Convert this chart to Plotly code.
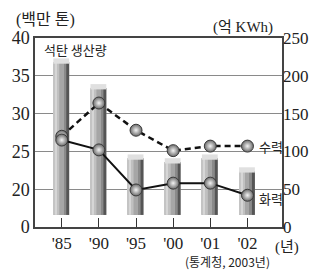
import plotly.graph_objects as go

years = ["'85", "'90", "'95", "'00", "'01", "'02"]
coal_mt = [36.8, 33.4, 24.1, 23.6, 24.1, 22.4]          # 백만 톤 (broken axis 20~40)
hydro = [120, 164, 128, 101, 107, 107]                  # 억 KWh
thermal = [115, 102, 49, 58, 58, 42]                    # 억 KWh
left_ticks = ["0", "20", "25", "30", "35", "40"]
right_ticks = ["0", "50", "100", "150", "200", "250"]

x = list(range(len(years)))
# broken left axis: 20..40 mapped onto 50..250 of the right scale
coal_r = [(v - 15) * 10 for v in coal_mt]
BASE = 16
PX = 250 / 6.65  # px per category unit

def u(px):
    return px / PX

fig = go.Figure()

def bar_layer(off_px, w_px, color):
    fig.add_trace(go.Bar(
        x=x, y=[r - BASE for r in coal_r], base=[BASE] * len(x),
        offset=u(off_px), width=u(w_px), marker=dict(color=color, line=dict(width=0)),
        hoverinfo="skip", showlegend=False))

bar_layer(-8.5, 16, "#a6a6a6")
bar_layer(-8.5, 2.0, "#c4c4c4")
bar_layer(-6.5, 2.0, "#d6d6d6")
bar_layer(-4.5, 2.0, "#c0c0c0")
bar_layer(2.5, 2.0, "#8a8a8a")
bar_layer(4.5, 3.0, "#555555")
# top caps
fig.add_trace(go.Bar(
    x=x, y=[7] * len(x), base=[r - 2 for r in coal_r],
    offset=u(-8.5), width=u(16), marker=dict(color="#e0e0e0", line=dict(width=0)),
    hoverinfo="skip", showlegend=False))

marker_style = dict(size=12, color="#6a6a6a", symbol="circle",
                    gradient=dict(type="radial", color="#f4f4f4"),
                    line=dict(color="#3a3a3a", width=1))

fig.add_trace(go.Scatter(x=x, y=hydro, mode="lines+markers",
                         line=dict(color="#111111", width=2.5, dash="6px,4px"),
                         marker=marker_style, showlegend=False))
fig.add_trace(go.Scatter(x=x, y=thermal, mode="lines+markers",
                         line=dict(color="#111111", width=2),
                         marker=marker_style, showlegend=False))

serif = "Liberation Serif, DejaVu Serif, serif"
kr = "Noto Sans CJK KR, sans-serif"
mixed = "Liberation Serif, Noto Sans CJK KR, serif"

fig.update_layout(
    width=321, height=271,
    margin=dict(l=34, r=37, t=38, b=44),
    paper_bgcolor="white", plot_bgcolor="white",
    barmode="overlay",
    xaxis=dict(range=[-0.72, 5.93], tickvals=x, ticktext=years,
               ticks="inside", ticklen=9, tickcolor="#333", tickwidth=1,
               showline=True, linecolor="#444", linewidth=1.5, mirror=True,
               showgrid=False, zeroline=False,
               tickfont=dict(family=serif, size=17, color="#222")),
    yaxis=dict(range=[0, 250], tickvals=[0, 50, 100, 150, 200, 250], ticktext=left_ticks,
               showline=True, linecolor="#444", linewidth=1.5, mirror=True,
               showgrid=True, gridcolor="#8a8a8a", gridwidth=1, zeroline=False,
               ticks="", tickfont=dict(family=serif, size=18, color="#222")),
    yaxis2=dict(range=[0, 250], tickvals=[0, 50, 100, 150, 200, 250], ticktext=right_ticks,
                overlaying="y", side="right", showgrid=False, zeroline=False,
                showline=False, ticks="",
                tickfont=dict(family=serif, size=17, color="#222")),
)
# invisible trace to activate right axis
fig.add_trace(go.Scatter(x=[x[0]], y=[0], yaxis="y2", mode="markers",
                         marker=dict(opacity=0), hoverinfo="skip", showlegend=False))

ann = [
    dict(text="(백만 톤)", x=0.044, y=1.095, font=dict(family=mixed, size=16, color="#222")),
    dict(text="(억 KWh)", x=0.844, y=1.058, font=dict(family=mixed, size=15, color="#222")),
    dict(text="석탄 생산량", x=0.164, y=0.937, font=dict(family=kr, size=13, color="#222")),
    dict(text="(년)", x=1.022, y=-0.11, font=dict(family=mixed, size=15, color="#222")),
    dict(text="(통계청, 2003년)", x=0.78, y=-0.185, font=dict(family=kr, size=12, color="#222")),
]
for a in ann:
    fig.add_annotation(xref="paper", yref="paper", showarrow=False,
                       xanchor="center", yanchor="middle", **a)

fig.add_annotation(x=x[-1], y=hydro[-1], xref="x", yref="y", text="수력", showarrow=False,
                   xanchor="left", yanchor="middle", xshift=10,
                   font=dict(family=kr, size=13, color="#222"))
fig.add_annotation(x=x[-1], y=thermal[-1], xref="x", yref="y", text="화력", showarrow=False,
                   xanchor="left", yanchor="middle", xshift=10, yshift=-3,
                   font=dict(family=kr, size=13, color="#222"))

fig.write_html("out.html", post_script="document.body.style.margin='0';",
               config={"displayModeBar": False})
